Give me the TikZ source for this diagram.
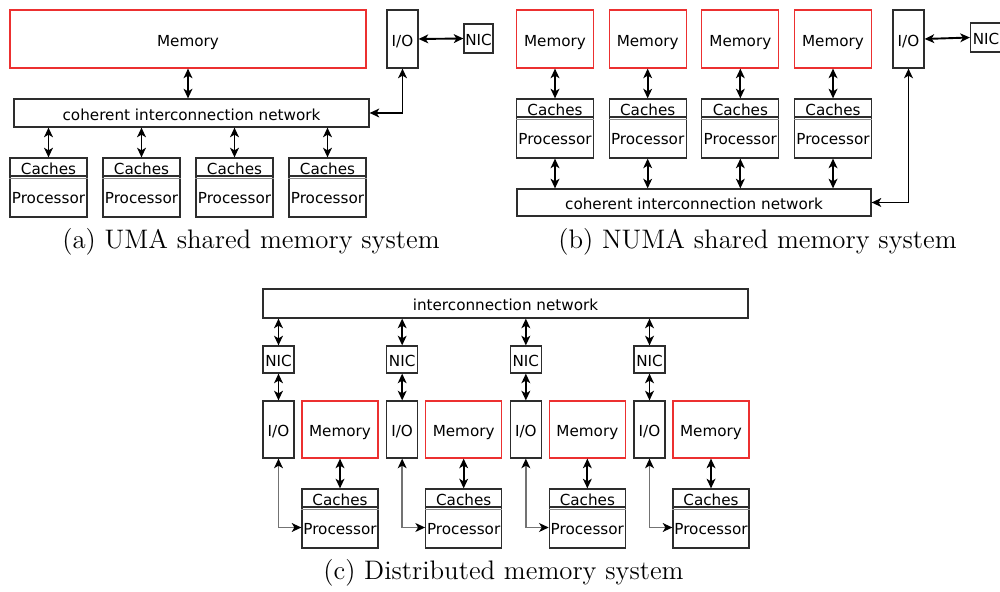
\documentclass[tikz,border=0pt]{standalone}
\usepackage{fontspec}
\newfontfamily\boxfont{DejaVu Sans}
\usetikzlibrary{arrows.meta}
\definecolor{memred}{RGB}{236,48,48}
\definecolor{edge}{RGB}{45,45,45}
\begin{document}
\begin{tikzpicture}[x=0.5pt,y=-0.5pt,
  box/.style={draw=edge, line width=0.6pt, inner sep=0pt,
    font=\boxfont\fontsize{7.6}{8.5}\selectfont, text=black,
    text height=0.73em, text depth=0pt},
  membox/.style={box, draw=memred},
  arr/.style={{Stealth[length=4.8pt,width=4.4pt,inset=1.3pt,color=black]}-{Stealth[length=4.8pt,width=4.4pt,inset=1.3pt,color=black]},
    line width=0.95pt, draw=black},
  ioarr/.style={arr, draw=black!55},
  divider/.style={draw=black!45, line width=0.45pt},
  caption/.style={font=\fontsize{13.4}{15}\selectfont, inner sep=0pt}]
\useasboundingbox (0,0) rectangle (1000,592);

% ---------- (a) UMA ----------
\node[membox, minimum width=178pt, minimum height=29pt] (memA) at (188,39) {Memory};
\node[box, minimum width=15.5pt, minimum height=29pt] (ioA) at (402.5,39) {I/O};
\node[box, minimum width=14.5pt, minimum height=14.5pt] (nicA) at (478.5,38.5) {NIC};
\node[box, minimum width=177.5pt, minimum height=14pt] (netA) at (191.5,113)
  {coherent interconnection network};
\draw[arr] (memA.south) -- (memA.south |- netA.north);
\draw[arr] (ioA.east) -- (nicA.west);
\draw[arr] (netA.east) -| (ioA.south);
\foreach \k in {0,1,2,3}{
  \pgfmathsetmacro\cx{48.5+93*\k}
  \node[box, minimum width=38.5pt, minimum height=9pt] (cA\k) at (\cx,167) {Caches};
  \node[box, minimum width=38.5pt, minimum height=20.5pt] (pA\k) at (\cx,196.5) {Processor};
  \draw[divider] ([yshift=-0.8pt]cA\k.south west) -- ([yshift=-0.8pt]cA\k.south east);
  \draw[arr] (cA\k.north) -- (cA\k.north |- netA.south);
}
\node[caption] (capA) at (251,242) {(a) UMA shared memory system};

% ---------- (b) NUMA ----------
\node[box, minimum width=15.5pt, minimum height=29pt] (ioB) at (908.5,39) {I/O};
\node[box, minimum width=15.5pt, minimum height=14.5pt] (nicB) at (986,37.5) {NIC};
\node[box, minimum width=177pt, minimum height=13.5pt] (netB) at (694,202.5)
  {coherent interconnection network};
\draw[arr] (ioB.east) -- (nicB.west);
\draw[arr] (netB.east) -| (ioB.south);
\foreach \k in {0,1,2,3}{
  \pgfmathsetmacro\cx{555+92.67*\k}
  \node[membox, minimum width=38.5pt, minimum height=29pt] (mB\k) at (\cx,39) {Memory};
  \node[box, minimum width=38.5pt, minimum height=9pt] (cB\k) at (\cx,108) {Caches};
  \node[box, minimum width=38.5pt, minimum height=20.5pt] (pB\k) at (\cx,137.5) {Processor};
  \draw[divider] ([yshift=-0.8pt]cB\k.south west) -- ([yshift=-0.8pt]cB\k.south east);
  \draw[arr] (mB\k.south) -- (cB\k.north);
  \draw[arr] (pB\k.south) -- (pB\k.south |- netB.north);
}
\node[caption] (capB) at (757.5,242) {(b) NUMA shared memory system};

% ---------- (c) Distributed ----------
\node[box, minimum width=242.5pt, minimum height=14.5pt] (netC) at (505.5,303.5)
  {interconnection network};
\foreach \k in {0,1,2,3}{
  \pgfmathsetmacro\bx{263+123.67*\k}
  \node[box, minimum width=15.5pt, minimum height=13.5pt] (nC\k) at (\bx+15.5,359.5) {NIC};
  \node[box, minimum width=15.5pt, minimum height=28.5pt] (iC\k) at (\bx+15.5,429.5) {I/O};
  \node[membox, minimum width=38pt, minimum height=28.5pt] (mC\k) at (\bx+77,429.5) {Memory};
  \node[box, minimum width=38pt, minimum height=9pt] (cC\k) at (\bx+77,498) {Caches};
  \node[box, minimum width=38pt, minimum height=20.5pt] (pC\k) at (\bx+77,527.5) {Processor};
  \draw[divider] ([yshift=-0.8pt]cC\k.south west) -- ([yshift=-0.8pt]cC\k.south east);
  \draw[arr] (nC\k.north |- netC.south) -- (nC\k.north);
  \draw[arr] (nC\k.south) -- (iC\k.north);
  \draw[arr] (mC\k.south) -- (cC\k.north);
  \draw[ioarr] (iC\k.south) |- (pC\k.west);
}
\node[caption] (capC) at (503.5,573) {(c) Distributed memory system};
\end{tikzpicture}
\end{document}
